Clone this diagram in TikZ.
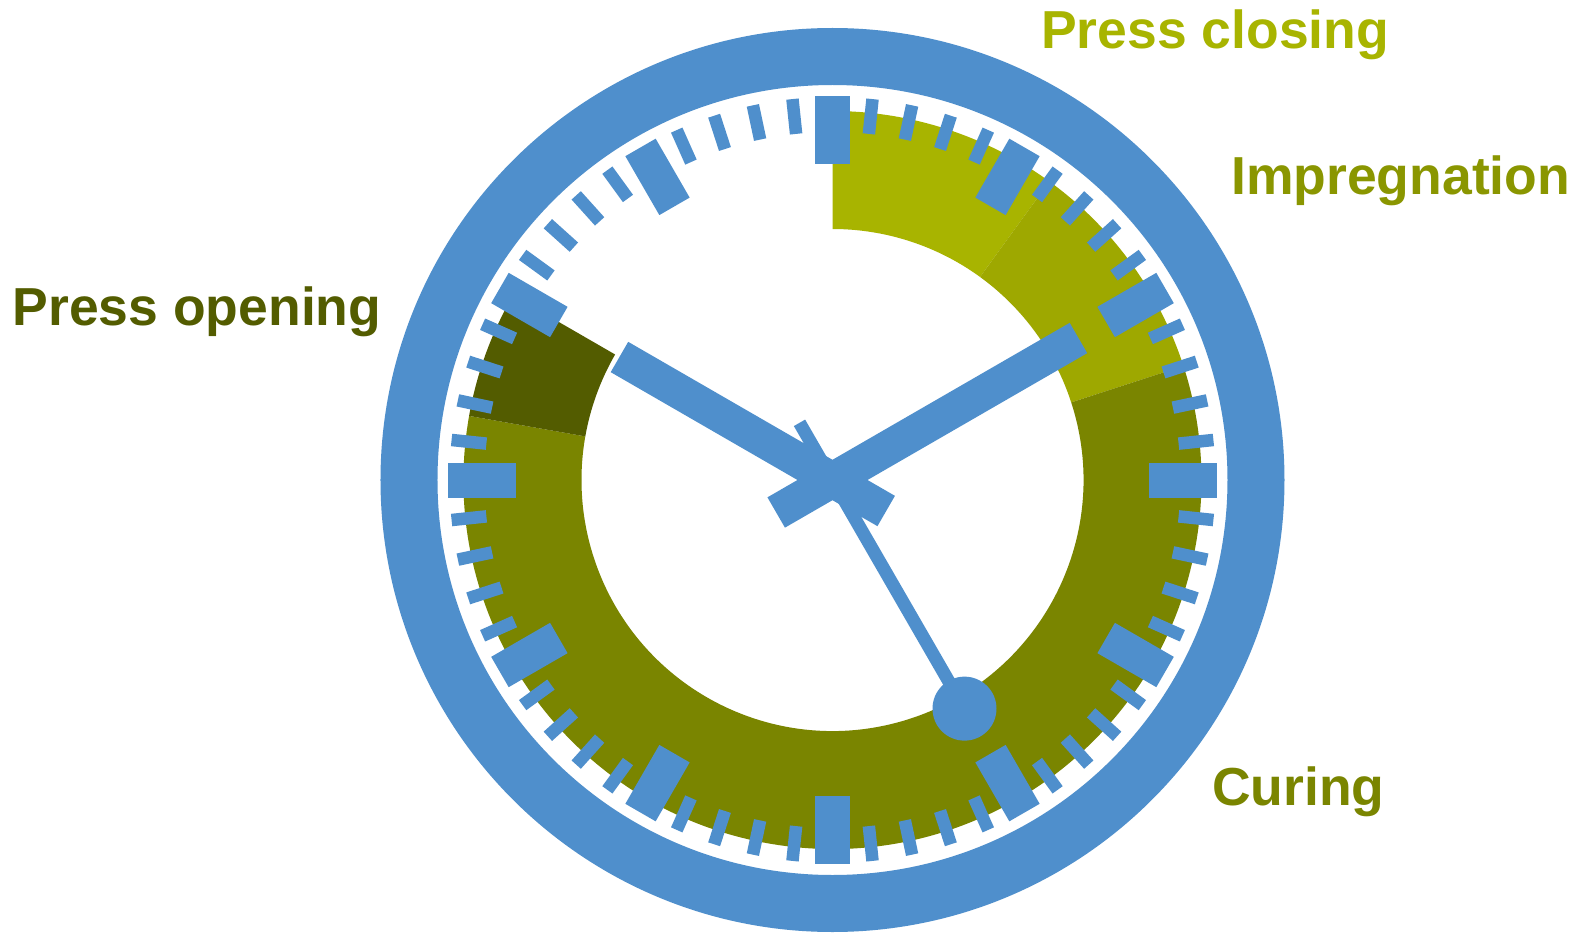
\documentclass[tikz,border=0pt]{standalone}
\usepackage{fontspec}
\setmainfont{Liberation Sans}
\definecolor{clockblue}{HTML}{4F8FCC}
\definecolor{closingcol}{HTML}{A8B400}
\definecolor{impregcol}{HTML}{9EA800}
\definecolor{curingcol}{HTML}{7A8500}
\definecolor{openingcol}{HTML}{535C00}
\definecolor{impregtext}{HTML}{8A9600}
\begin{document}
\begin{tikzpicture}[x=1pt,y=1pt,
  hand/.style={draw=clockblue,line width=35pt},
  phaselabel/.style={font=\fontsize{53.5}{60}\selectfont\bfseries,inner sep=0pt,anchor=base west}]
\useasboundingbox (-832.5,-452) rectangle (746.5,480);
\fill[white] (-832.5,-452) rectangle (746.5,480);
% outer ring
\draw[clockblue,line width=57pt] (0,0) circle[radius=423.5];
% phase sectors
\fill[closingcol] (90:251) arc[start angle=90,end angle=54,radius=251] -- (54:369) arc[start angle=54,end angle=90,radius=369] -- cycle;
\fill[impregcol] (54:251) arc[start angle=54,end angle=18,radius=251] -- (18:369) arc[start angle=18,end angle=54,radius=369] -- cycle;
\fill[curingcol] (18:251) arc[start angle=18,end angle=-190,radius=251] -- (-190:369) arc[start angle=-190,end angle=18,radius=369] -- cycle;
\fill[openingcol] (170:251) arc[start angle=170,end angle=150,radius=251] -- (150:369) arc[start angle=150,end angle=170,radius=369] -- cycle;
% ticks
\foreach \i in {0,...,59}{
  \pgfmathtruncatemacro\m{mod(\i,5)}
  \ifnum\m=0
    \fill[clockblue,rotate=-6*\i] (-17.5,316) rectangle (17.5,384);
  \else
    \fill[clockblue,rotate=-6*\i] (-6.25,348) rectangle (6.25,383);
  \fi
}
% hands
\coordinate (ctr) at (0,0);
\coordinate (hourtail) at (-30:62);
\coordinate (hourtip) at (150:246);
\coordinate (mintail) at (210:65);
\coordinate (mintip) at (30:284);
\coordinate (sectail) at (120:66);
\coordinate (secend) at (-60:264);
\draw[hand] (hourtail) -- (hourtip);
\draw[hand] (mintail) -- (mintip);
\draw[draw=clockblue,line width=13pt] (sectail) -- (secend);
\fill[clockblue] (secend) circle[radius=32];
% labels
\node[phaselabel,text=closingcol] (closing) at (208.5,431) {Press closing};
\node[phaselabel,text=impregtext] (impreg) at (398.5,285.5) {Impregnation};
\node[phaselabel,text=openingcol] (opening) at (-820,155) {Press opening};
\node[phaselabel,text=curingcol] (curing) at (379.5,-325) {Curing};
\end{tikzpicture}
\end{document}
